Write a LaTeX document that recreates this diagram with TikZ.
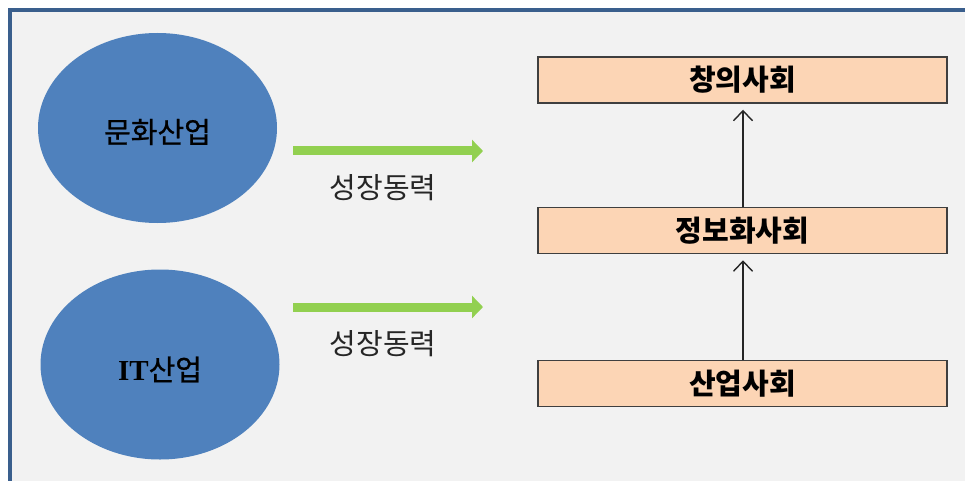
\documentclass[tikz,border=0pt]{standalone}
\usepackage{fontspec}
\setmainfont{Noto Sans CJK KR}
\newfontfamily\medkr[FakeBold=0.8]{Noto Sans CJK KR}
\newfontfamily\itfont{Liberation Serif}
\usetikzlibrary{shapes.geometric,arrows.meta}
\definecolor{bg}{HTML}{F2F2F2}
\definecolor{frameblue}{HTML}{3A5F8D}
\definecolor{ellblue}{HTML}{4F81BD}
\definecolor{peach}{HTML}{FCD5B5}
\definecolor{boxline}{HTML}{3F3F3F}
\definecolor{lgreen}{HTML}{92D050}
\tikzset{
  industry/.style={ellipse, fill=ellblue, draw=none, minimum width=239pt, minimum height=190pt, inner sep=0pt, font=\fontsize{29}{32}\selectfont\medkr, text=black},
  society/.style={rectangle, fill=peach, draw=boxline, line width=1.5pt, minimum width=409pt, minimum height=46pt, inner sep=0pt, font=\fontsize{29}{32}\selectfont\bfseries, text=black},
  growth/.style={draw=lgreen, line width=9pt, -{Triangle[length=11pt,width=22pt]}},
  growthlabel/.style={font=\fontsize{29}{32}\selectfont, text=black!85},
  uparrow/.style={draw=black!85, line width=1.4pt, -{Straight Barb[length=10pt,width=19pt]}, shorten >=6pt}
}
\begin{document}
\begin{tikzpicture}[x=1pt,y=-1pt]
\useasboundingbox (0,0) rectangle (965,481);
\fill[white] (0,0) rectangle (965,481);
\fill[bg] (10,10) rectangle (965,481);
\draw[frameblue, line width=4.5pt] (10,481) -- (10,10) -- (965,10);

\node[industry] (culture) at (157.5,128) {\raisebox{-4pt}[\height][\depth]{문화산업}};
\node[industry] (it) at (160,364.5) {\raisebox{-5pt}[\height][\depth]{{\itfont\bfseries IT}산업}};

\coordinate (g1s) at (293,151);
\coordinate (g1e) at (483,151);
\coordinate (g2s) at (293,307);
\coordinate (g2e) at (483,307);
\draw[growth] (g1s) -- (g1e);
\draw[growth] (g2s) -- (g2e);
\node[growthlabel] (l1) at (383,188) {성장동력};
\node[growthlabel] (l2) at (383,344) {성장동력};

\node[society] (s1) at (742.5,80) {창의사회};
\node[society] (s2) at (742.5,230.5) {정보화사회};
\node[society] (s3) at (742.5,383.5) {산업사회};

\draw[uparrow] (s3.north -| 743,0) -- (s2.south -| 743,0);
\draw[uparrow] (s2.north -| 743,0) -- (s1.south -| 743,0);
\end{tikzpicture}
\end{document}
